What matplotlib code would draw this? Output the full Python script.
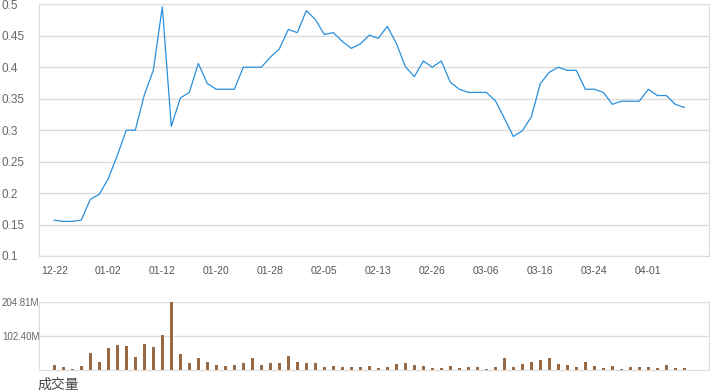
import numpy as np
import matplotlib
matplotlib.use("Agg")
from matplotlib import pyplot as plt

# price line, one value per trading day
price = [0.157, 0.155, 0.155, 0.157, 0.190, 0.198, 0.223, 0.260, 0.300, 0.300,
         0.356, 0.395, 0.496, 0.306, 0.351, 0.360, 0.406, 0.374, 0.365, 0.365,
         0.365, 0.400, 0.400, 0.400, 0.416, 0.429, 0.460, 0.455, 0.490, 0.476,
         0.452, 0.455, 0.441, 0.430, 0.437, 0.451, 0.446, 0.465, 0.438, 0.401,
         0.385, 0.410, 0.400, 0.410, 0.376, 0.365, 0.360, 0.360, 0.360, 0.347,
         0.319, 0.290, 0.299, 0.321, 0.374, 0.392, 0.400, 0.395, 0.395, 0.365,
         0.365, 0.360, 0.341, 0.346, 0.346, 0.346, 0.365, 0.355, 0.355, 0.341,
         0.336]

# volume in millions
volume = [15, 9, 3, 12, 51, 24, 67, 76, 73, 39,
          79, 70, 106, 204.81, 48, 21, 36, 24, 15, 12,
          15, 21, 36, 15, 21, 21, 42, 24, 21, 21,
          9, 12, 9, 9, 9, 12, 6, 9, 18, 21,
          15, 12, 6, 6, 12, 6, 9, 9, 3, 9,
          36, 9, 18, 24, 30, 36, 18, 15, 9, 24,
          12, 6, 12, 3, 9, 9, 9, 6, 15, 6,
          6]

tick_labels = ["12-22", "01-02", "01-12", "01-20", "01-28", "02-05",
               "02-13", "02-26", "03-06", "03-16", "03-24", "04-01"]

price_ticks = [0.1, 0.15, 0.2, 0.25, 0.3, 0.35, 0.4, 0.45, 0.5]
vol_ticks = [102.40, 204.81]

line_color = "#2a8fdc"
bar_color = "#976a45"
grid_color = "#dcdcdc"
text_color = "#666666"

plt.rcParams['font.family'] = ['Liberation Sans', 'Noto Sans CJK SC', 'DejaVu Sans']

x = np.arange(len(price))
xlim = (-1.7, 72.74)

fig = plt.figure(figsize=(7.2, 3.92), dpi=100)
ax = fig.add_axes([39 / 720, 1 - 256 / 392, 670 / 720, 251.7 / 392])
ax2 = fig.add_axes([39 / 720, 1 - 370 / 392, 670 / 720, 67.7 / 392])

# price chart
ax.plot(x, price, color=line_color, lw=0.9)
ax.set_xlim(*xlim)
ax.set_ylim(0.1, 0.5)
ax.set_yticks(price_ticks)
ax.set_yticklabels([f"{t:g}" for t in price_ticks], ha="left")
ax.tick_params(axis="y", length=0, pad=37 * 0.72, labelsize=8.5, labelcolor=text_color)
ax.set_xticks(x[::6])
ax.set_xticklabels(tick_labels)
ax.tick_params(axis="x", length=0, pad=7, labelsize=7.5, labelcolor="#555555")
ax.grid(axis="y", color=grid_color, lw=1)
for s in ["left", "right", "bottom", "top"]:
    ax.spines[s].set_color(grid_color)
ax.spines["top"].set_visible(False)

# volume chart
ax2.set_axisbelow(True)
ax2.bar(x, volume, width=0.3, color=bar_color)
ax2.set_xlim(*xlim)
ax2.set_ylim(0, 204.81)
ax2.set_yticks(vol_ticks)
ax2.set_yticklabels([f"{t:.2f}M" for t in vol_ticks], ha="left")
ax2.tick_params(axis="y", length=0, pad=37 * 0.72, labelsize=7, labelcolor=text_color)
ax2.set_xticks([])
ax2.grid(axis="y", color=grid_color, lw=1)
for s in ["left", "right", "bottom", "top"]:
    ax2.spines[s].set_color(grid_color)
ax2.spines["top"].set_visible(False)

fig.text(37 / 720, 1 - 385 / 392, "成交量", fontsize=10, color="#444444",
         va="center", ha="left", family=['Noto Sans CJK SC', 'DejaVu Sans'])

fig.savefig("out.png", dpi=100)
